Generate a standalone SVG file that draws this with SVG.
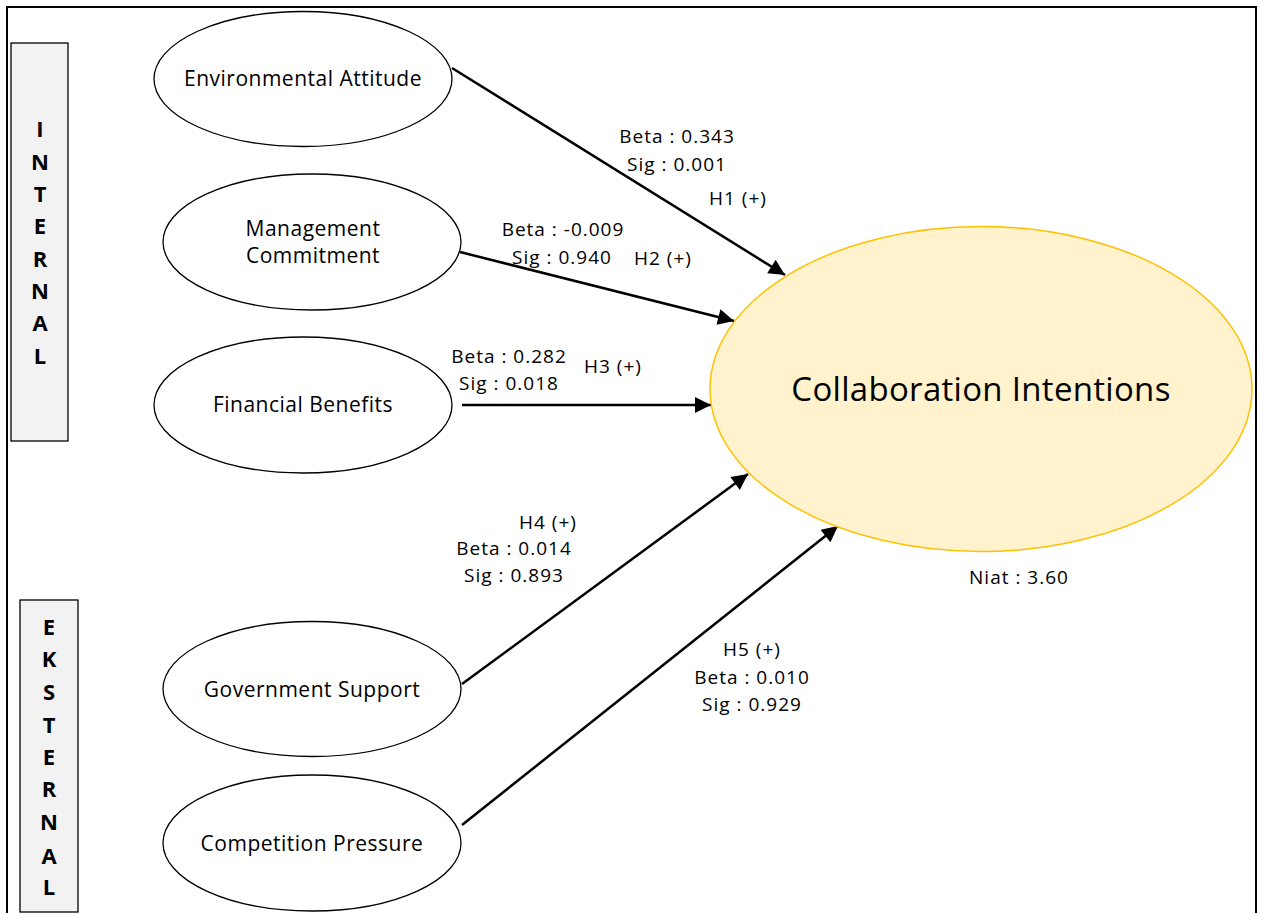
<svg xmlns="http://www.w3.org/2000/svg" width="1265" height="913" viewBox="0 0 1265 913">
  <style>
    .node { fill: #ffffff; stroke: #000000; stroke-width: 1.3; }
    .target { fill: #fff2cc; stroke: #ffc000; stroke-width: 1.5; }
    .side { fill: #f2f2f2; stroke: #000000; stroke-width: 1.3; }
    .t { font-family: "Open Sans", "Noto Sans", sans-serif; fill: #000000; text-anchor: middle; }
    .nt { font-size: 21px; letter-spacing: 0.5px; }
    .lb { font-size: 19px; letter-spacing: 1px; }
    .big { font-size: 33px; letter-spacing: 0.3px; }
    .vl { font-size: 22px; font-weight: bold; }
    .edge { stroke: #000000; stroke-width: 2.5; fill: none; marker-end: url(#head); }
  </style>
  <defs>
    <marker id="head" viewBox="0 0 10 10" refX="10" refY="5" markerUnits="userSpaceOnUse" markerWidth="24" markerHeight="16" orient="auto">
      <path d="M0,0 L10,5 L0,10 Z" fill="#000000"/>
    </marker>
  </defs>

  <rect width="1265" height="913" fill="#ffffff"/>
  <!-- outer frame -->
  <path d="M7,920 V7 H1256 V920" fill="none" stroke="#000000" stroke-width="2"/>

  <!-- side bars -->
  <g id="internal">
    <rect class="side" x="11" y="43" width="57" height="398"/>
    <g class="t vl">
      <text x="40" y="137">I</text>
      <text x="40" y="170">N</text>
      <text x="40" y="202">T</text>
      <text x="40" y="234">E</text>
      <text x="40" y="267">R</text>
      <text x="40" y="299">N</text>
      <text x="40" y="331">A</text>
      <text x="40" y="364">L</text>
    </g>
  </g>
  <g id="eksternal">
    <rect class="side" x="20" y="600" width="58" height="312"/>
    <g class="t vl">
      <text x="49" y="635">E</text>
      <text x="49" y="667">K</text>
      <text x="49" y="700">S</text>
      <text x="49" y="733">T</text>
      <text x="49" y="765">E</text>
      <text x="49" y="797">R</text>
      <text x="49" y="830">N</text>
      <text x="49" y="864">A</text>
      <text x="49" y="895">L</text>
    </g>
  </g>

  <!-- connectors -->
  <g id="connectors">
    <line class="edge" x1="452" y1="68" x2="785" y2="275"/>
    <line class="edge" x1="460" y1="252" x2="734" y2="321"/>
    <line class="edge" x1="462" y1="405" x2="711" y2="405"/>
    <line class="edge" x1="462" y1="684" x2="748" y2="474"/>
    <line class="edge" x1="462" y1="825" x2="838" y2="526"/>
  </g>

  <!-- predictor nodes -->
  <g id="environmental-attitude">
    <ellipse class="node" cx="303" cy="79" rx="149" ry="67.5"/>
    <text class="t nt" x="303" y="86">Environmental Attitude</text>
  </g>
  <g id="management-commitment">
    <ellipse class="node" cx="312" cy="242" rx="149" ry="68"/>
    <text class="t nt" x="313" y="236">Management</text>
    <text class="t nt" x="313" y="263">Commitment</text>
  </g>
  <g id="financial-benefits">
    <ellipse class="node" cx="303" cy="405" rx="149" ry="68"/>
    <text class="t nt" x="303" y="412">Financial Benefits</text>
  </g>
  <g id="government-support">
    <ellipse class="node" cx="312" cy="689" rx="149" ry="67.5"/>
    <text class="t nt" x="312" y="697">Government Support</text>
  </g>
  <g id="competition-pressure">
    <ellipse class="node" cx="312" cy="843" rx="149" ry="68"/>
    <text class="t nt" x="312" y="851">Competition Pressure</text>
  </g>

  <!-- outcome node -->
  <g id="collaboration-intentions">
    <ellipse class="target" cx="981" cy="389" rx="271" ry="162.5"/>
    <text class="t big" x="981" y="401">Collaboration Intentions</text>
    <text class="t lb" x="1019" y="584">Niat : 3.60</text>
  </g>

  <!-- path labels -->
  <g id="labels" class="t lb">
    <text x="677" y="143">Beta : 0.343</text>
    <text x="677" y="171">Sig : 0.001</text>
    <text x="738" y="205">H1 (+)</text>
    <text x="563" y="236">Beta : -0.009</text>
    <text x="562" y="264">Sig : 0.940</text>
    <text x="663" y="265">H2 (+)</text>
    <text x="509" y="363">Beta : 0.282</text>
    <text x="509" y="390">Sig : 0.018</text>
    <text x="613" y="373">H3 (+)</text>
    <text x="548" y="529">H4 (+)</text>
    <text x="514" y="555">Beta : 0.014</text>
    <text x="514" y="582">Sig : 0.893</text>
    <text x="752" y="656">H5 (+)</text>
    <text x="752" y="684">Beta : 0.010</text>
    <text x="752" y="711">Sig : 0.929</text>
  </g>
</svg>
